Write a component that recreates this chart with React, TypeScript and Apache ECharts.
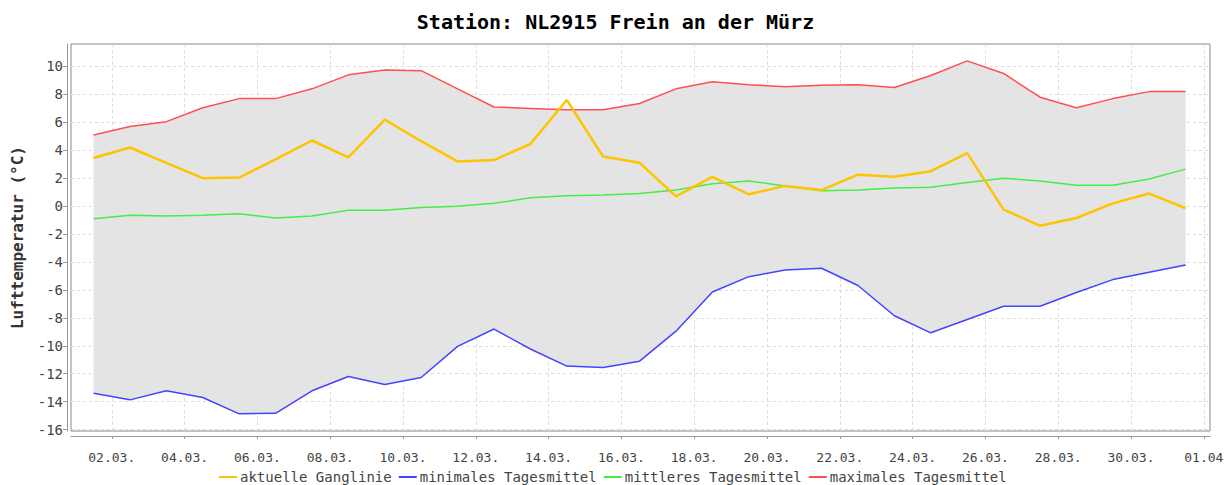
import React, { useEffect, useRef } from "react";
import * as echarts from "echarts";

const TITLE = "Station: NL2915 Frein an der Mürz";
const Y_NAME = "Lufttemperatur (°C)";

// Daily values, 01.03. – 31.03. (plotted at noon of each day)
const aktuelle = [
  3.45, 4.2, 3.1, 2.0, 2.05, 3.35, 4.7, 3.5, 6.2, 4.65, 3.2, 3.3, 4.45, 7.6, 3.55, 3.1,
  0.7, 2.1, 0.85, 1.45, 1.15, 2.25, 2.1, 2.5, 3.8, -0.25, -1.4, -0.85, 0.2, 0.9, -0.15,
];
const minimales = [
  -13.4, -13.87, -13.22, -13.7, -14.87, -14.83, -13.22, -12.2, -12.77, -12.27, -10.04, -8.8,
  -10.23, -11.45, -11.55, -11.1, -8.95, -6.15, -5.05, -4.58, -4.45, -5.68, -7.85, -9.07, -8.12,
  -7.17, -7.17, -6.18, -5.26, -4.74, -4.21,
];
const mittleres = [
  -0.9, -0.65, -0.7, -0.65, -0.55, -0.85, -0.7, -0.3, -0.3, -0.1, 0.0, 0.2, 0.6, 0.75, 0.8, 0.9,
  1.15, 1.6, 1.8, 1.45, 1.1, 1.15, 1.3, 1.35, 1.7, 2.0, 1.8, 1.5, 1.5, 1.95, 2.65,
];
const maximales = [
  5.1, 5.7, 6.05, 7.05, 7.7, 7.7, 8.4, 9.4, 9.75, 9.7, 8.4, 7.1, 7.0, 6.9, 6.9, 7.35, 8.4, 8.9,
  8.7, 8.55, 8.65, 8.7, 8.5, 9.35, 10.4, 9.5, 7.8, 7.05, 7.7, 8.2, 8.2,
];

// x tick positions in days since 01.03. 00:00, with their labels
const xTickValues = [1, 3, 5, 7, 9, 11, 13, 15, 17, 19, 21, 23, 25, 27, 29, 31];
const xTickLabels = [
  "02.03.", "04.03.", "06.03.", "08.03.", "10.03.", "12.03.", "14.03.", "16.03.",
  "18.03.", "20.03.", "22.03.", "24.03.", "26.03.", "28.03.", "30.03.", "01.04",
];
const yTickValues = [-16, -14, -12, -10, -8, -6, -4, -2, 0, 2, 4, 6, 8, 10];

const SERIES_NAMES = [
  "aktuelle Ganglinie",
  "minimales Tagesmittel",
  "mittleres Tagesmittel",
  "maximales Tagesmittel",
];
const COLORS = ["#ffc400", "#4444ff", "#44ee44", "#ff4f4f"];

const MONO = "'DejaVu Sans Mono', monospace";

function pts(values: number[]) {
  return values.map((v, i) => [i + 0.5, v]);
}

export default function App() {
  const ref = useRef<HTMLDivElement>(null);
  useEffect(() => {
    if (!ref.current) return;
    const chart = echarts.init(ref.current, undefined, { renderer: "svg" });
    const lineSeries = (idx: number, data: number[], width: number, z: number) => ({
      name: SERIES_NAMES[idx],
      type: "line",
      data: pts(data),
      showSymbol: false,
      symbol: "none",
      lineStyle: { color: COLORS[idx], width },
      itemStyle: { color: COLORS[idx] },
      z,
    });
    chart.setOption({
      animation: false,
      backgroundColor: "#ffffff",
      title: {
        text: TITLE,
        left: "center",
        top: 7,
        textStyle: { fontFamily: MONO, fontWeight: "bold", fontSize: 20, color: "#000" },
      },
      legend: {
        data: SERIES_NAMES,
        top: 465,
        left: 214,
        icon: "rect",
        itemWidth: 18,
        itemHeight: 2,
        itemGap: 7,
        textStyle: { fontFamily: MONO, fontSize: 14, color: "#444", padding: [0, 0, 0, -2] },
      },
      grid: {
        left: 71,
        right: 21,
        top: 44,
        bottom: 54,
        show: true,
        backgroundColor: "#ffffff",
        borderColor: "#888888",
        borderWidth: 1,
      },
      xAxis: {
        type: "value",
        min: -0.12,
        max: 31.17,
        offset: 5,
        axisLine: { show: true, onZero: false, lineStyle: { color: "#999999" } },
        axisTick: { show: true, length: 3, customValues: xTickValues, lineStyle: { color: "#999" } },
        axisLabel: {
          customValues: xTickValues,
          formatter: (v: number) => {
            const k = xTickValues.indexOf(Math.round(v));
            return k >= 0 ? xTickLabels[k] : "";
          },
          fontFamily: MONO,
          fontSize: 13,
          color: "#444",
          margin: 15,
        },
        splitLine: { show: true, lineStyle: { color: "#dcdcdc", type: [3, 3], width: 1 } },
      },
      yAxis: {
        type: "value",
        min: -16.1,
        max: 11.61,
        offset: 4,
        name: Y_NAME,
        nameLocation: "middle",
        nameGap: 42,
        nameTextStyle: { fontFamily: MONO, fontWeight: "bold", fontSize: 16, color: "#333" },
        axisLine: { show: true, onZero: false, lineStyle: { color: "#999999" } },
        axisTick: { show: true, length: 4, customValues: yTickValues, lineStyle: { color: "#999" } },
        axisLabel: {
          customValues: yTickValues,
          formatter: (v: number) => String(v),
          fontFamily: MONO,
          fontSize: 14,
          color: "#444",
          margin: 4,
        },
        splitLine: { show: true, lineStyle: { color: "#dcdcdc", type: [3, 3], width: 1 } },
      },
      series: [
        {
          name: "_band",
          type: "custom",
          silent: true,
          z: 1,
          data: [[0]],
          renderItem: (_params: any, api: any) => {
            const upper = maximales.map((v, i) => api.coord([i + 0.5, v]));
            const lower = minimales.map((v, i) => api.coord([i + 0.5, v])).reverse();
            return {
              type: "polygon",
              shape: { points: upper.concat(lower) },
              style: { fill: "#e4e4e4", stroke: "none" },
            };
          },
        },
        lineSeries(3, maximales, 1.5, 3),
        lineSeries(2, mittleres, 1.5, 3),
        lineSeries(1, minimales, 1.5, 3),
        lineSeries(0, aktuelle, 2.5, 4),
      ],
    });
    return () => chart.dispose();
  }, []);
  return (
    <div
      ref={ref}
      style={{ position: "fixed", left: 0, top: 0, width: 1231, height: 485 }}
    />
  );
}
